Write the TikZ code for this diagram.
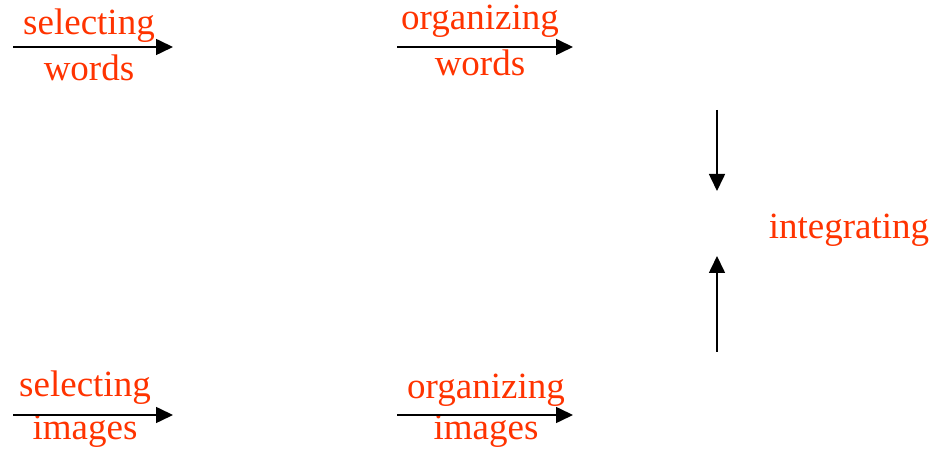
\documentclass[tikz,border=0pt]{standalone}
\usepackage{fontspec}
\setmainfont{Liberation Serif}
\usetikzlibrary{arrows.meta}
\definecolor{labelred}{RGB}{255,51,0}
\begin{document}
\begin{tikzpicture}[x=1pt,y=1pt,
  lbl/.style={text=labelred,font=\fontsize{37}{40}\selectfont,anchor=base,inner sep=0pt},
  flow/.style={draw=black,line width=1.6pt,-{Triangle[length=17pt,width=16pt]}}]
\useasboundingbox (0,0) rectangle (934,449);
% top left
\node[lbl] (selw) at (89,{449-35}) {selecting};
\node[lbl] (words1) at (89,{449-81}) {words};
\coordinate (a1s) at (13,{449-47});
\coordinate (a1e) at (173,{449-47});
\draw[flow] (a1s) -- (a1e);
% top middle
\node[lbl] (orgw) at (480,{449-30}) {organizing};
\node[lbl] (words2) at (480,{449-76}) {words};
\coordinate (a2s) at (397,{449-47});
\coordinate (a2e) at (573,{449-47});
\draw[flow] (a2s) -- (a2e);
% bottom left
\node[lbl] (seli) at (85,{449-397}) {selecting};
\node[lbl] (images1) at (85,{449-440}) {images};
\coordinate (a3s) at (13,{449-415});
\coordinate (a3e) at (173,{449-415});
\draw[flow] (a3s) -- (a3e);
% bottom middle
\node[lbl] (orgi) at (486,{449-399}) {organizing};
\node[lbl] (images2) at (486,{449-440}) {images};
\coordinate (a4s) at (397,{449-415});
\coordinate (a4e) at (573,{449-415});
\draw[flow] (a4s) -- (a4e);
% integrating
\node[lbl] (integ) at (849,{449-239}) {integrating};
\coordinate (v1s) at (717,{449-110});
\coordinate (v1e) at (717,{449-191});
\draw[flow] (v1s) -- (v1e);
\coordinate (v2s) at (717,{449-352});
\coordinate (v2e) at (717,{449-256});
\draw[flow] (v2s) -- (v2e);
\end{tikzpicture}
\end{document}
